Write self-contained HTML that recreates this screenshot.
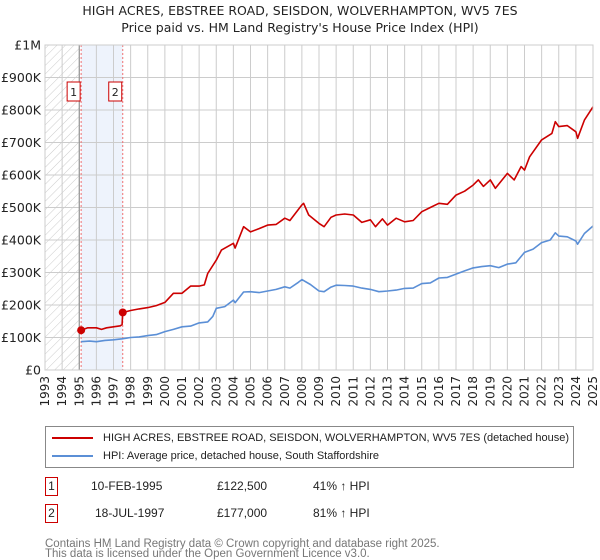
<!DOCTYPE html>
<html><head><meta charset="utf-8">
<style>
body{margin:0;background:#fff;font-family:"Liberation Sans","DejaVu Sans",sans-serif;}
#wrap{position:relative;width:600px;height:560px;overflow:hidden;}
svg text{font-family:"DejaVu Sans","Liberation Sans",sans-serif;}
</style></head>
<body>
<div id="wrap">
<svg id="chart" width="600" height="560">
  <text x="300" y="15" text-anchor="middle" font-size="12.5" fill="#222">HIGH ACRES, EBSTREE ROAD, SEISDON, WOLVERHAMPTON, WV5 7ES</text>
  <text x="300" y="32" text-anchor="middle" font-size="12.5" fill="#222">Price paid vs. HM Land Registry's House Price Index (HPI)</text>
  <defs>
    <pattern id="hatch" width="6" height="6" patternUnits="userSpaceOnUse" patternTransform="rotate(45)">
      <line x1="0" y1="0" x2="0" y2="6" stroke="#ccc" stroke-width="1"/>
    </pattern>
  </defs>
  <g id="grid"></g>
  <g id="marks"></g>
  <g id="axes"></g>
</svg>
<div style="position:absolute;left:45px;top:426px;width:529px;height:42px;border:1px solid #888;box-sizing:border-box;font-size:11px;color:#222;">
  <div style="position:absolute;left:6px;top:5px;white-space:nowrap;"><span style="display:inline-block;width:41px;height:2px;background:#cc0000;vertical-align:middle;margin-right:10px;"></span>HIGH ACRES, EBSTREE ROAD, SEISDON, WOLVERHAMPTON, WV5 7ES (detached house)</div>
  <div style="position:absolute;left:6px;top:23px;white-space:nowrap;"><span style="display:inline-block;width:41px;height:2px;background:#5b8fd6;vertical-align:middle;margin-right:10px;"></span>HPI: Average price, detached house, South Staffordshire</div>
</div>
<div style="position:absolute;left:45px;top:477px;font-size:12px;color:#222;">
  <span style="position:absolute;left:0;top:0;width:13px;height:19px;border:1px solid #cc0000;box-sizing:border-box;text-align:center;line-height:17px;">1</span>
  <span style="position:absolute;left:46px;top:2px;white-space:nowrap;">10-FEB-1995</span>
  <span style="position:absolute;left:172px;top:2px;white-space:nowrap;">£122,500</span>
  <span style="position:absolute;left:268px;top:2px;white-space:nowrap;">41% ↑ HPI</span>
</div>
<div style="position:absolute;left:45px;top:504px;font-size:12px;color:#222;">
  <span style="position:absolute;left:0;top:0;width:13px;height:19px;border:1px solid #cc0000;box-sizing:border-box;text-align:center;line-height:17px;">2</span>
  <span style="position:absolute;left:50px;top:2px;white-space:nowrap;">18-JUL-1997</span>
  <span style="position:absolute;left:172px;top:2px;white-space:nowrap;">£177,000</span>
  <span style="position:absolute;left:268px;top:2px;white-space:nowrap;">81% ↑ HPI</span>
</div>
<div style="position:absolute;left:45px;top:539px;font-size:11.5px;color:#777;line-height:10px;">Contains HM Land Registry data © Crown copyright and database right 2025.<br>This data is licensed under the Open Government Licence v3.0.</div>
</div>
<script>
const yearTicks=[1993,1994,1995,1996,1997,1998,1999,2000,2001,2002,2003,2004,2005,2006,2007,2008,2009,2010,2011,2012,2013,2014,2015,2016,2017,2018,2019,2020,2021,2022,2023,2024,2025];
const valueTicks=[0,100000,200000,300000,400000,500000,600000,700000,800000,900000,1000000];
const valueTickLabels=["£0","£100K","£200K","£300K","£400K","£500K","£600K","£700K","£800K","£900K","£1M"];
const hpiYears=[1995.1,1995.6,1996,1996.5,1997,1997.5,1998,1998.5,1999,1999.5,2000,2000.5,2001,2001.5,2002,2002.5,2002.8,2003,2003.5,2004,2004.1,2004.6,2005,2005.5,2006,2006.5,2007,2007.3,2007.8,2008,2008.5,2009,2009.3,2009.7,2010,2010.5,2011,2011.5,2012,2012.5,2013,2013.5,2014,2014.5,2015,2015.5,2016,2016.5,2017,2017.5,2018,2018.5,2019,2019.5,2020,2020.5,2021,2021.5,2022,2022.5,2022.8,2023,2023.5,2024,2024.1,2024.5,2025];
const hpiValues=[87000,89000,87000,91000,93000,96000,100000,102000,106000,109000,118000,125000,133000,135000,145000,148000,165000,190000,195000,215000,207000,240000,241000,238000,243000,248000,256000,252000,270000,278000,263000,243000,241000,255000,261000,260000,258000,252000,248000,241000,243000,246000,251000,252000,266000,268000,283000,285000,295000,305000,314000,318000,321000,315000,326000,330000,362000,372000,392000,400000,422000,412000,410000,397000,387000,420000,443000];
const priceYears=[1995.11,1995.5,1996,1996.3,1996.6,1997,1997.4,1997.5,1997.54,1998,1998.5,1999,1999.5,2000,2000.5,2001,2001.5,2002,2002.3,2002.5,2003,2003.3,2004,2004.1,2004.6,2005,2005.5,2006,2006.5,2007,2007.3,2008,2008.1,2008.4,2009,2009.3,2009.7,2010,2010.5,2011,2011.5,2012,2012.3,2012.7,2013,2013.5,2014,2014.5,2015,2015.5,2016,2016.5,2017,2017.5,2018,2018.3,2018.6,2019,2019.3,2020,2020.4,2020.8,2021,2021.3,2022,2022.6,2022.8,2023,2023.5,2024,2024.1,2024.5,2025];
const priceValues=[122500,130000,130000,125000,130000,133000,136000,140000,177000,183000,188000,192000,198000,208000,236000,236000,258000,258000,262000,297000,338000,369000,390000,375000,441000,425000,435000,446000,448000,467000,460000,508000,513000,477000,451000,441000,470000,477000,480000,477000,454000,462000,441000,465000,446000,467000,456000,460000,487000,500000,513000,510000,538000,550000,569000,585000,565000,585000,559000,605000,585000,626000,615000,656000,708000,728000,764000,749000,752000,733000,713000,769000,810000];
const saleYears=[1995.11,1997.54];
const saleValues=[122500,177000];
const saleLabels=["1","2"];

const L=45,R=593,T=45,B=370;
const xS=y=>L+(y-1993)/(2025-1993)*(R-L);
const yS=v=>B-v/1000000*(B-T);
const NS="http://www.w3.org/2000/svg";
function mk(tag,attrs,parent){const e=document.createElementNS(NS,tag);for(const k in attrs)e.setAttribute(k,attrs[k]);parent.appendChild(e);return e;}
const grid=document.getElementById('grid'),marks=document.getElementById('marks'),axes=document.getElementById('axes');

let r=mk('rect',{x:L,y:T,width:xS(1995.0)-L,height:B-T,fill:'url(#hatch)'},grid);


r=mk('rect',{x:xS(saleYears[0]),y:T,width:xS(saleYears[1])-xS(saleYears[0]),height:B-T,fill:'#eef3fc'},grid);



yearTicks.forEach(y=>{
  const l=mk('line',{x1:xS(y),x2:xS(y),y1:T,y2:B,stroke:'#ccc','stroke-width':1},grid);
  
  
  const t=mk('text',{x:0,y:0,'font-size':12,fill:'#222','text-anchor':'end',transform:`translate(${xS(y)+4},${B+6}) rotate(-90)`},axes);
  t.textContent=y;
  
  
});
valueTicks.forEach((v,i)=>{
  const l=mk('line',{x1:L,x2:R,y1:yS(v),y2:yS(v),stroke:'#ccc','stroke-width':1},grid);
  
  
  const t=mk('text',{x:L-4,y:yS(v)+4.5,'font-size':12.5,fill:'#222','text-anchor':'end'},axes);
  t.textContent=valueTickLabels[i];
  
  
});
let vl=mk('line',{x1:xS(1995.0),x2:xS(1995.0),y1:T,y2:B,stroke:'#888','stroke-width':1},grid);



saleYears.forEach((y,i)=>{
  const l=mk('line',{x1:xS(y),x2:xS(y),y1:T,y2:B,stroke:'#f07070','stroke-width':1,'stroke-dasharray':'2,2'},marks);
  
  
});

function path(xs,vs,color,name){
  const d=xs.map((x,i)=>(i?'L':'M')+xS(x).toFixed(1)+','+yS(vs[i]).toFixed(1)).join('');
  const p=mk('path',{d:d,fill:'none',stroke:color,'stroke-width':1.6,'stroke-linejoin':'round'},marks);
  
  
}
path(hpiYears,hpiValues,'#5b8fd6','hpi-line');
path(priceYears,priceValues,'#cc0000','price-paid-line');

saleYears.forEach((y,i)=>{
  const c=mk('circle',{cx:xS(y),cy:yS(saleValues[i]),r:4,fill:'#cc0000'},marks);
  
  
  const bx=mk('rect',{x:xS(y)-14,y:82,width:13,height:19,fill:'#fff',stroke:'#cc0000','stroke-width':1},marks);
  
  
  const t=mk('text',{x:xS(y)-7.5,y:96,'font-size':11,fill:'#222','text-anchor':'middle'},marks);
  t.textContent=saleLabels[i];
  
  
});
let fr=mk('rect',{x:L,y:T,width:R-L,height:B-T,fill:'none',stroke:'#ccc','stroke-width':1},axes);


</script>
</body></html>
